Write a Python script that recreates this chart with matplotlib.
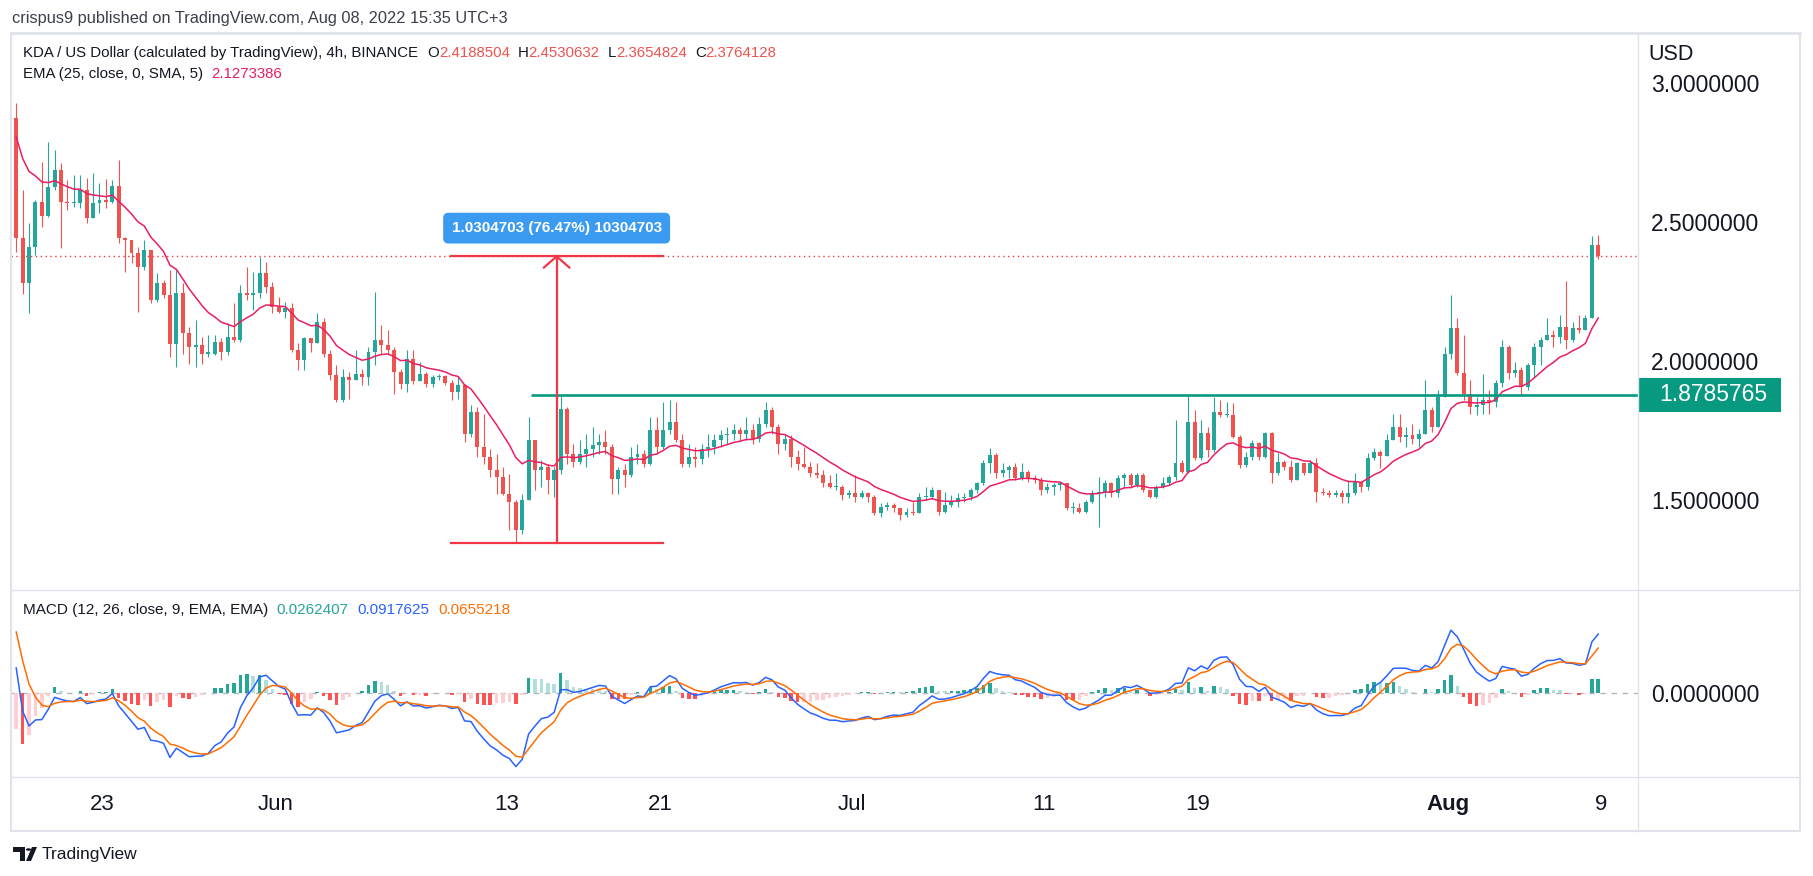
import datetime as dt
import numpy as np
import matplotlib
matplotlib.use('Agg')
import matplotlib.pyplot as plt
import matplotlib.dates as mdates
import matplotlib.transforms as mtransforms
from matplotlib.lines import Line2D
from matplotlib.patches import Rectangle, Polygon, Circle

plt.rcParams['font.family'] = ['Liberation Sans', 'DejaVu Sans']

W, H = 1813, 876

# ── data: KDA/USD, merged to 8h bars ─────────────────────────────────────
BAR_START = dt.datetime(2022, 5, 18, 12)   # centre of first bar
BAR_HOURS = 8
OPEN_FIRST = 2.873

CLOSE = [
    2.441, 2.281, 2.411, 2.573, 2.521, 2.627, 2.687, 2.573, 2.567, 2.569,
    2.615, 2.513, 2.567, 2.579, 2.573, 2.629, 2.441, 2.435, 2.387, 2.339,
    2.399, 2.219, 2.279, 2.237, 2.061, 2.243, 2.099, 2.051, 2.057, 2.027,
    2.027, 2.069, 2.033, 2.087, 2.075, 2.243, 2.237, 2.243, 2.315, 2.267,
    2.195, 2.177, 2.189, 2.039, 2.003, 2.081, 2.063, 2.141, 2.027, 1.949,
    1.861, 1.943, 1.933, 1.955, 1.943, 2.033, 2.075, 2.057, 2.039, 1.961,
    1.919, 2.009, 1.927, 1.953, 1.919, 1.943, 1.945, 1.921, 1.889, 1.913,
    1.739, 1.817, 1.691, 1.655, 1.607, 1.583, 1.523, 1.493, 1.391, 1.499,
    1.715, 1.607, 1.619, 1.571, 1.607, 1.829, 1.667, 1.637, 1.667, 1.685,
    1.697, 1.709, 1.691, 1.577, 1.607, 1.589, 1.655, 1.667, 1.631, 1.751,
    1.691, 1.751, 1.781, 1.715, 1.631, 1.655, 1.649, 1.685, 1.691, 1.715,
    1.733, 1.739, 1.751, 1.739, 1.751, 1.721, 1.775, 1.823, 1.763, 1.703,
    1.721, 1.655, 1.631, 1.620, 1.596, 1.590, 1.560, 1.548, 1.548, 1.518,
    1.524, 1.512, 1.524, 1.512, 1.452, 1.476, 1.482, 1.470, 1.446, 1.458,
    1.454, 1.512, 1.512, 1.536, 1.458, 1.482, 1.494, 1.506, 1.512, 1.536,
    1.560, 1.632, 1.662, 1.596, 1.608, 1.620, 1.578, 1.602, 1.578, 1.572,
    1.536, 1.548, 1.554, 1.560, 1.470, 1.470, 1.458, 1.494, 1.524, 1.530,
    1.560, 1.524, 1.578, 1.590, 1.554, 1.590, 1.536, 1.512, 1.548, 1.560,
    1.584, 1.632, 1.602, 1.782, 1.650, 1.740, 1.680, 1.818, 1.806, 1.806,
    1.728, 1.626, 1.656, 1.704, 1.656, 1.740, 1.596, 1.638, 1.620, 1.572,
    1.632, 1.596, 1.632, 1.530, 1.524, 1.518, 1.524, 1.512, 1.524, 1.566,
    1.548, 1.650, 1.674, 1.660, 1.717, 1.763, 1.725, 1.733, 1.721, 1.739,
    1.823, 1.763, 1.871, 2.027, 2.117, 1.957, 1.883, 1.835, 1.841, 1.859,
    1.853, 1.921, 2.051, 1.957, 1.967, 1.905, 1.985, 2.051, 2.075, 2.093,
    2.087, 2.123, 2.075, 2.117, 2.111, 2.153, 2.4188504, 2.3764128,
]
HIGH = [
    2.927, 2.615, 2.495, 2.579, 2.717, 2.789, 2.759, 2.711, 2.651, 2.669,
    2.669, 2.657, 2.675, 2.639, 2.653, 2.651, 2.723, 2.447, 2.435, 2.411,
    2.435, 2.399, 2.315, 2.291, 2.327, 2.327, 2.279, 2.123, 2.147, 2.087,
    2.093, 2.093, 2.081, 2.135, 2.207, 2.273, 2.339, 2.321, 2.375, 2.357,
    2.285, 2.231, 2.213, 2.207, 2.063, 2.087, 2.081, 2.171, 2.153, 2.039,
    1.985, 1.973, 1.961, 2.039, 1.973, 2.051, 2.249, 2.129, 2.111, 2.051,
    1.973, 2.039, 2.039, 1.997, 1.961, 1.949, 1.955, 1.949, 1.931, 1.943,
    1.919, 1.841, 1.835, 1.811, 1.685, 1.667, 1.619, 1.595, 1.499, 1.523,
    1.799, 1.715, 1.643, 1.631, 1.619, 1.877, 1.835, 1.703, 1.715, 1.739,
    1.763, 1.739, 1.751, 1.703, 1.619, 1.631, 1.691, 1.703, 1.679, 1.799,
    1.799, 1.853, 1.859, 1.853, 1.739, 1.703, 1.691, 1.703, 1.739, 1.739,
    1.751, 1.763, 1.775, 1.763, 1.799, 1.775, 1.799, 1.853, 1.835, 1.775,
    1.739, 1.733, 1.679, 1.692, 1.638, 1.632, 1.608, 1.590, 1.596, 1.554,
    1.536, 1.590, 1.536, 1.530, 1.518, 1.488, 1.494, 1.488, 1.470, 1.470,
    1.494, 1.524, 1.548, 1.548, 1.536, 1.530, 1.518, 1.524, 1.524, 1.542,
    1.566, 1.644, 1.686, 1.668, 1.632, 1.626, 1.632, 1.632, 1.608, 1.590,
    1.584, 1.560, 1.560, 1.566, 1.560, 1.494, 1.488, 1.500, 1.536, 1.584,
    1.572, 1.566, 1.590, 1.596, 1.596, 1.596, 1.596, 1.536, 1.554, 1.584,
    1.590, 1.788, 1.644, 1.878, 1.824, 1.788, 1.764, 1.872, 1.860, 1.854,
    1.848, 1.734, 1.674, 1.716, 1.710, 1.746, 1.746, 1.668, 1.644, 1.644,
    1.638, 1.632, 1.644, 1.650, 1.542, 1.536, 1.536, 1.536, 1.572, 1.596,
    1.560, 1.668, 1.686, 1.680, 1.739, 1.811, 1.811, 1.763, 1.775, 1.757,
    1.933, 1.835, 1.895, 2.051, 2.237, 2.153, 2.093, 1.931, 1.871, 1.955,
    1.895, 1.931, 2.077, 2.057, 1.997, 1.979, 1.993, 2.063, 2.087, 2.153,
    2.111, 2.165, 2.287, 2.141, 2.165, 2.165, 2.449, 2.4530632,
]
LOW = [
    2.393, 2.241, 2.171, 2.381, 2.483, 2.519, 2.615, 2.405, 2.543, 2.555,
    2.549, 2.495, 2.525, 2.531, 2.549, 2.567, 2.423, 2.321, 2.351, 2.177,
    2.327, 2.207, 2.213, 2.225, 2.015, 1.979, 2.027, 1.989, 1.979, 1.991,
    2.015, 2.021, 2.003, 2.021, 2.069, 2.069, 2.219, 2.183, 2.225, 2.243,
    2.171, 2.171, 2.153, 2.033, 1.967, 1.967, 2.033, 2.063, 2.015, 1.931,
    1.853, 1.853, 1.865, 1.931, 1.913, 1.913, 1.985, 2.027, 2.027, 1.883,
    1.901, 1.889, 1.919, 1.931, 1.907, 1.907, 1.931, 1.913, 1.859, 1.865,
    1.709, 1.727, 1.655, 1.631, 1.583, 1.523, 1.517, 1.391, 1.3459425, 1.379,
    1.499, 1.535, 1.547, 1.523, 1.511, 1.595, 1.631, 1.619, 1.631, 1.619,
    1.655, 1.667, 1.667, 1.523, 1.523, 1.547, 1.583, 1.631, 1.619, 1.625,
    1.667, 1.685, 1.739, 1.709, 1.619, 1.619, 1.619, 1.631, 1.655, 1.667,
    1.691, 1.703, 1.715, 1.715, 1.715, 1.703, 1.709, 1.763, 1.739, 1.667,
    1.679, 1.619, 1.607, 1.614, 1.584, 1.578, 1.548, 1.542, 1.536, 1.500,
    1.506, 1.494, 1.506, 1.494, 1.446, 1.440, 1.464, 1.458, 1.428, 1.440,
    1.446, 1.452, 1.500, 1.506, 1.446, 1.452, 1.476, 1.476, 1.494, 1.500,
    1.524, 1.554, 1.596, 1.578, 1.584, 1.578, 1.572, 1.572, 1.566, 1.560,
    1.518, 1.524, 1.518, 1.536, 1.464, 1.452, 1.452, 1.452, 1.488, 1.404,
    1.512, 1.512, 1.512, 1.548, 1.542, 1.548, 1.530, 1.506, 1.506, 1.542,
    1.554, 1.572, 1.596, 1.596, 1.644, 1.644, 1.656, 1.674, 1.800, 1.800,
    1.722, 1.614, 1.620, 1.644, 1.644, 1.650, 1.560, 1.590, 1.608, 1.566,
    1.590, 1.590, 1.620, 1.494, 1.518, 1.512, 1.512, 1.488, 1.488, 1.518,
    1.530, 1.536, 1.644, 1.614, 1.679, 1.715, 1.709, 1.691, 1.703, 1.691,
    1.739, 1.745, 1.787, 1.871, 2.009, 1.949, 1.859, 1.811, 1.805, 1.811,
    1.811, 1.835, 1.907, 1.937, 1.943, 1.883, 1.895, 1.943, 1.985, 2.075,
    2.051, 2.063, 2.045, 2.069, 2.099, 2.117, 2.153, 2.3654824,
]

LAST_O, LAST_H, LAST_L, LAST_C = 2.4188504, 2.4530632, 2.3654824, 2.3764128
EMA_LAST = 2.1273386
HIST_LAST, MACD_LAST, SIGNAL_LAST = 0.0262407, 0.0917625, 0.0655218
RESIST = 1.8785765
MEASURE_LOW, MEASURE_HIGH = 1.3459425, 2.3764128
MEASURE_TXT = '1.0304703 (76.47%) 10304703'

# indicator levels at the left edge
EMA_SEED = 2.87
FAST_SEED, SLOW_SEED = 2.87, 2.75
SIGNAL_SEED = 0.136

TICK_DATES = [dt.datetime(2022, 5, 23), dt.datetime(2022, 6, 1), dt.datetime(2022, 6, 13),
              dt.datetime(2022, 6, 21), dt.datetime(2022, 7, 1), dt.datetime(2022, 7, 11),
              dt.datetime(2022, 7, 19), dt.datetime(2022, 8, 1), dt.datetime(2022, 8, 9)]
TICK_LABELS = ['23', 'Jun', '13', '21', 'Jul', '11', '19', 'Aug', '9']
PRICE_TICKS = [1.5, 2.0, 2.5, 3.0]

# drawing-tool anchors
MEASURE_T0 = dt.datetime(2022, 6, 10, 3)
MEASURE_T1 = dt.datetime(2022, 6, 21, 4)
MEASURE_TX = dt.datetime(2022, 6, 15, 15)
RESIST_T0 = dt.datetime(2022, 6, 14, 7)

UP, DOWN = '#26A69A', '#EF5350'
EMA_COL = '#E91E63'
DARK = '#131722'
FRAME = '#E0E3EB'


def ema(vals, n4, start):
    # one 8h bar = two 4h bars
    a = 1 - (1 - 2.0 / (n4 + 1)) ** 2
    out, e = [], start
    for v in vals:
        e = e + a * (v - e)
        out.append(e)
    return np.array(out)


c = np.array(CLOSE)
h = np.array(HIGH)
l = np.array(LOW)
o = np.r_[OPEN_FIRST, c[:-1]]
n = len(c)
t = np.array([mdates.date2num(BAR_START + dt.timedelta(hours=BAR_HOURS * j)) for j in range(n)])
bw = BAR_HOURS / 24.0

ema25 = ema(c, 25, EMA_SEED)
macd = ema(c, 12, FAST_SEED) - ema(c, 26, SLOW_SEED)
signal = ema(macd, 9, SIGNAL_SEED)
hist = macd - signal

base = mdates.date2num(dt.datetime(2022, 5, 23))
XLIM = (base - 4.772, base + 79.903)

fig = plt.figure(figsize=(W / 100, H / 100), dpi=100)
fig.patch.set_facecolor('white')

ax = fig.add_axes([11 / W, 1 - 590 / H, 1627 / W, 557 / H])
mx = fig.add_axes([11 / W, 1 - 777 / H, 1627 / W, 187 / H], sharex=ax)

# ── price pane ───────────────────────────────────────────────────────────
up = c >= o
col = np.where(up, UP, DOWN)
hi = np.maximum(h, np.maximum(o, c))
lo = np.minimum(l, np.minimum(o, c))
ax.vlines(t, lo, hi, colors=col, lw=0.8, zorder=2)
ax.bar(t, np.maximum(np.abs(c - o), 0.004), bottom=np.minimum(o, c), width=bw * 0.62,
       color=col, lw=0, zorder=3)
ax.plot(t, ema25, color=EMA_COL, lw=1.1, zorder=4)

ax.axhline(LAST_C, color='#F23645', lw=1.0, ls=(0, (1, 2.5)), zorder=1)
ax.plot([mdates.date2num(RESIST_T0), XLIM[1]], [RESIST, RESIST], color='#089981',
        lw=1.9, zorder=5, solid_capstyle='butt')

# measure tool
m0, m1, mxx = [mdates.date2num(d) for d in (MEASURE_T0, MEASURE_T1, MEASURE_TX)]
red = '#F23645'
ax.plot([m0, m1], [MEASURE_HIGH] * 2, color=red, lw=1.6, zorder=6)
ax.plot([m0, m1], [MEASURE_LOW] * 2, color=red, lw=1.6, zorder=6)
ax.plot([mxx, mxx], [MEASURE_LOW, MEASURE_HIGH], color=red, lw=1.6, zorder=6)
ax.plot([mxx - 0.66, mxx, mxx + 0.66], [MEASURE_HIGH - 0.04, MEASURE_HIGH, MEASURE_HIGH - 0.04],
        color=red, lw=1.6, zorder=6)
ax.text(mxx, 2.478, MEASURE_TXT, ha='center', va='center', color='white', fontsize=11,
        fontweight='bold', zorder=7,
        bbox=dict(boxstyle='round,pad=0.55,rounding_size=0.35', fc='#3A9BF0', ec='none'))

ax.set_xlim(*XLIM)
ax.set_ylim(1.1763, 3.1799)
ax.yaxis.tick_right()
ax.set_yticks(PRICE_TICKS)
ax.set_yticklabels(['%.7f' % v for v in PRICE_TICKS])
ax.tick_params(axis='y', length=0, pad=9.5, labelsize=16.5, labelcolor=DARK)
ax.tick_params(axis='x', length=0, labelbottom=False)
for s in ax.spines.values():
    s.set_visible(False)

# green price box for the resistance line
bt = mtransforms.blended_transform_factory(fig.transFigure, ax.transData)
ax.add_patch(Rectangle((1638 / W, RESIST - 17 / 278), 143 / W, 34 / 278, transform=bt,
                       fc='#089981', ec='none', clip_on=False, zorder=8))
ax.text(1659 / W, RESIST, '%.7f' % RESIST, transform=bt, color='white', fontsize=16.5,
        va='center', ha='left', zorder=9, clip_on=False)

# ── MACD pane ────────────────────────────────────────────────────────────
prev = np.r_[hist[0], hist[:-1]]
hcol = np.where(hist >= 0, np.where(hist > prev, '#26A69A', '#B2DFDB'),
                np.where(hist < prev, '#FF5252', '#FFCDD2'))
mx.axhline(0, color='#B2B5BE', lw=1, ls=(0, (4, 4)), zorder=1)
mx.bar(t, hist, width=bw * 0.55, color=hcol, lw=0, zorder=2)
mx.plot(t, macd, color='#2962FF', lw=1.1, zorder=3)
mx.plot(t, signal, color='#FF6D00', lw=1.1, zorder=4)
mx.set_ylim(-0.1397, 0.1724)
mx.yaxis.tick_right()
mx.set_yticks([0])
mx.set_yticklabels(['0.0000000'])
mx.tick_params(axis='y', length=0, pad=9.5, labelsize=16.5, labelcolor=DARK)
mx.set_xticks([mdates.date2num(d) for d in TICK_DATES])
mx.set_xticklabels(TICK_LABELS)
mx.tick_params(axis='x', length=0, pad=12, labelsize=16, labelcolor=DARK)
for lab in mx.get_xticklabels():
    if lab.get_text() == 'Aug':
        lab.set_fontweight('bold')
for s in mx.spines.values():
    s.set_visible(False)

# ── frame lines ──────────────────────────────────────────────────────────
def hline(y, x0=11, x1=1800, lw=1.0):
    fig.add_artist(Line2D([x0 / W, x1 / W], [1 - y / H, 1 - y / H], color=FRAME, lw=lw))

def vline(x, y0=33, y1=831, lw=1.0):
    fig.add_artist(Line2D([x / W, x / W], [1 - y0 / H, 1 - y1 / H], color=FRAME, lw=lw))

hline(33, lw=2.0)
hline(590)
hline(777)
hline(831, lw=1.5)
vline(11, lw=1.5)
vline(1638)
vline(1800, lw=1.5)

# ── texts ────────────────────────────────────────────────────────────────
renderer = fig.canvas.get_renderer()

def put_row(x, y, parts, size):
    for s, colr, gap in parts:
        tx = fig.text(x / W, 1 - y / H, s, color=colr, fontsize=size, va='center', ha='left')
        x += tx.get_window_extent(renderer=renderer).width + gap

fig.text(12 / W, 1 - 18 / H, 'crispus9 published on TradingView.com, Aug 08, 2022 15:35 UTC+3',
         color='#3b3f4a', fontsize=11.8, va='center', ha='left')

put_row(23, 53, [('KDA / US Dollar (calculated by TradingView), 4h, BINANCE', DARK, 9),
                 ('O', DARK, 0), ('%.7f' % LAST_O, DOWN, 8),
                 ('H', DARK, 0), ('%.7f' % LAST_H, DOWN, 8),
                 ('L', DARK, 0), ('%.7f' % LAST_L, DOWN, 8),
                 ('C', DARK, 0), ('%.7f' % LAST_C, DOWN, 0)], 10.8)
put_row(23, 74, [('EMA (25, close, 0, SMA, 5)', DARK, 8),
                 ('%.7f' % EMA_LAST, EMA_COL, 0)], 10.8)
put_row(23, 610, [('MACD (12, 26, close, 9, EMA, EMA)', DARK, 8),
                  ('%.7f' % HIST_LAST, '#26A69A', 9),
                  ('%.7f' % MACD_LAST, '#2962FF', 9),
                  ('%.7f' % SIGNAL_LAST, '#FF6D00', 0)], 11)

fig.text(1648 / W, 1 - 54 / H, 'USD', color=DARK, fontsize=15.5, va='center', ha='left')

# TradingView logo
fig.add_artist(Polygon([[13 / W, 1 - 847 / H], [25 / W, 1 - 847 / H], [25 / W, 1 - 861 / H],
                        [20 / W, 1 - 861 / H], [20 / W, 1 - 852 / H], [13 / W, 1 - 852 / H]],
                       closed=True, fc=DARK, ec='none'))
fig.add_artist(Circle((28.5 / W, 1 - 849.5 / H), 2.6 / W, fc=DARK, ec='none'))
fig.add_artist(Polygon([[32 / W, 1 - 847 / H], [37 / W, 1 - 847 / H], [31 / W, 1 - 861 / H],
                        [26 / W, 1 - 861 / H]], closed=True, fc=DARK, ec='none'))
fig.text(42 / W, 1 - 855 / H, 'TradingView', color=DARK, fontsize=12.5, va='center', ha='left')

fig.savefig('out.png', dpi=100, facecolor='white')
